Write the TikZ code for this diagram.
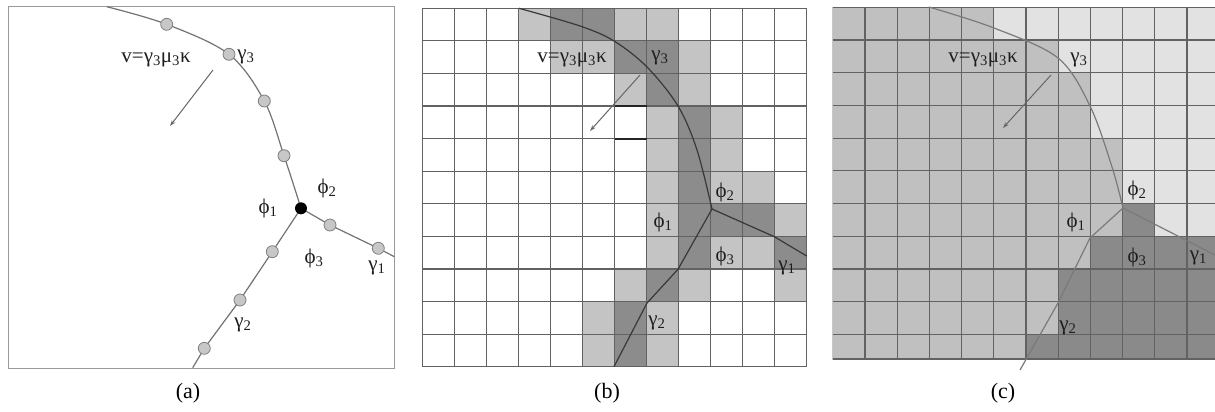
\documentclass[tikz,border=0pt]{standalone}
\usepackage{fontspec}
\setmainfont{Liberation Serif}
\usetikzlibrary{arrows.meta}
\definecolor{lgb}{HTML}{C4C4C4}
\definecolor{dgb}{HTML}{8C8C8C}
\definecolor{mgc}{HTML}{C0C0C0}
\definecolor{lgc}{HTML}{E2E2E2}
\definecolor{dgc}{HTML}{8A8A8A}
\definecolor{txt}{HTML}{1E1E1E}
\definecolor{gridc}{HTML}{626262}
\newcommand{\sub}[1]{\textsubscript{#1}}
\begin{document}
\begin{tikzpicture}[x=1pt,y=-1pt,
  lbl/.style={font=\fontsize{21}{24}\selectfont, text=txt, inner sep=0pt},
  captxt/.style={font=\fontsize{22}{24}\selectfont, text=black, inner sep=0pt},
  bead/.style={circle, draw=black!50, fill=black!22, line width=0.8pt, minimum size=12pt, inner sep=0pt},
  junc/.style={circle, fill=black, minimum size=12pt, inner sep=0pt},
  curveA/.style={draw=black!55, line width=1.2pt},
  curveB/.style={draw=black!78, line width=1.2pt},
  curveC/.style={draw=black!52, line width=1.2pt},
  vec/.style={draw=black!60, line width=1pt, -{Stealth[length=6pt,width=4pt]}},
  gridline/.style={draw=gridc, line width=1.2pt},
  heavy/.style={draw=black!85, line width=2pt},
  frameA/.style={draw=black!40, line width=1pt}
]
\useasboundingbox (0,0) rectangle (1215,412);
\fill[white] (0,0) rectangle (1215,412);

% ================= panel (a) =================
\draw[frameA] (8,7) rectangle (394,368);
\coordinate (aS) at (106.7,6.7);
\coordinate (ap1) at (166.7,24.3);
\coordinate (ap2) at (229,54.3);
\coordinate (ap3) at (264.3,101);
\coordinate (ap4) at (284,155.7);
\coordinate (aJ) at (301,208.3);
\coordinate (aq1) at (330,225);
\coordinate (aq2) at (378.3,248.3);
\coordinate (aE1) at (394.3,256.7);
\coordinate (ar1) at (272.3,251.7);
\coordinate (ar2) at (240,300);
\coordinate (ar3) at (204.3,348.3);
\coordinate (aE2) at (192.7,367.7);
\draw[curveA] plot[smooth, tension=0.55] coordinates {(aS) (ap1) (ap2) (ap3) (ap4) (aJ)};
\draw[curveA] (aJ) -- (aq1) -- (aq2) -- (aE1);
\draw[curveA] (aJ) -- (ar1) -- (ar2) -- (ar3) -- (aE2);
\foreach \p in {ap1,ap2,ap3,ap4,aq1,aq2,ar1,ar2,ar3} {\node[bead] (n\p) at (\p) {};}
\node[junc] (naJ) at (aJ) {};
\coordinate (aV1) at (213,70);
\coordinate (aV2) at (170,126);
\draw[vec] (aV1) -- (aV2);
\node[lbl] (aeq) at (156,60) {v=γ\sub{3}μ\sub{3}κ};
\node[lbl] (ag3) at (246,57) {γ\sub{3}};
\node[lbl] (af2) at (327,188) {ϕ\sub{2}};
\node[lbl] (af1) at (268,208) {ϕ\sub{1}};
\node[lbl] (af3) at (314,258) {ϕ\sub{3}};
\node[lbl] (ag1) at (377,268) {γ\sub{1}};
\node[lbl] (ag2) at (243,325) {γ\sub{2}};
\node[captxt] (capa) at (188,393) {(a)};

% ================= panel (b) =================
\begin{scope}[shift={(422.7,8.3)}]
  \foreach \c/\r in {3/0,6/0,7/0,4/1,5/1,8/1,6/2,8/2,7/3,9/3,7/4,9/4,7/5,9/5,10/5,7/6,11/6,7/7,9/7,10/7,6/8,8/8,11/8,5/9,7/9,5/10,7/10}
    \fill[lgb] ({32*\c},{32.58*\r}) rectangle ++(32,32.58);
  \foreach \c/\r in {4/0,5/0,6/1,7/1,7/2,8/3,8/4,8/5,8/6,9/6,10/6,8/7,11/7,7/8,6/9,6/10}
    \fill[dgb] ({32*\c},{32.58*\r}) rectangle ++(32,32.58);
  \foreach \i in {0,...,12} \draw[gridline] ({32*\i},0) -- ({32*\i},358.4);
  \foreach \j in {0,...,11} \draw[gridline] (0,{32.58*\j}) -- (384,{32.58*\j});
  \draw[heavy] (192,97.7) -- (224,97.7);
  \draw[heavy] (192,130.3) -- (224,130.3);
\end{scope}
\coordinate (bS) at (519,8.3);
\coordinate (bp1) at (580,26);
\coordinate (bp2) at (614,41);
\coordinate (bp3) at (647,67);
\coordinate (bp4) at (678,106);
\coordinate (bp5) at (697,150);
\coordinate (bJ) at (712,209);
\coordinate (bq1) at (774.3,236.7);
\coordinate (bE1) at (806.7,256);
\coordinate (br1) at (678,269.3);
\coordinate (br2) at (647,303);
\coordinate (bE2) at (614,366.7);
\draw[curveB] plot[smooth, tension=0.55] coordinates {(bS) (bp1) (bp2) (bp3) (bp4) (bp5) (bJ)};
\draw[curveB] (bJ) -- (bq1) -- (bE1);
\draw[curveB] (bJ) -- (br1) -- (br2) -- (bE2);
\coordinate (bV1) at (640,75);
\coordinate (bV2) at (590,131);
\draw[vec] (bV1) -- (bV2);
\node[lbl] (beq) at (572,60) {v=γ\sub{3}μ\sub{3}κ};
\node[lbl] (bg3) at (660,58) {γ\sub{3}};
\node[lbl] (bf2) at (725,192) {ϕ\sub{2}};
\node[lbl] (bf1) at (663,222) {ϕ\sub{1}};
\node[lbl] (bf3) at (725,256) {ϕ\sub{3}};
\node[lbl] (bg1) at (787,268) {γ\sub{1}};
\node[lbl] (bg2) at (657,323) {γ\sub{2}};
\node[captxt] (capb) at (607,393) {(b)};

% ================= panel (c) =================
\begin{scope}
  \clip (832.7,7.3) rectangle (1215,359);
  \begin{scope}[shift={(832.7,7.3)}]
    \fill[mgc] (0,0) rectangle (390,360);
    \foreach \r/\a in {0/5,1/7,2/8,3/8,4/9,5/9,6/10}
      \fill[lgc] ({32.2*\a},{32.7*\r}) rectangle ({32.2*12},{32.7*(\r+1)});
    \fill[dgc] ({32.2*9},{32.7*6}) rectangle ({32.2*10},{32.7*7});
    \foreach \r/\a in {7/8,8/7,9/7,10/6}
      \fill[dgc] ({32.2*\a},{32.7*\r}) rectangle ({32.2*12},{32.7*(\r+1)});
    \foreach \i in {0,...,12} \draw[gridline] ({32.2*\i},0) -- ({32.2*\i},360);
    \foreach \j in {0,...,11} \draw[gridline] (0,{32.7*\j}) -- (390,{32.7*\j});
  \end{scope}
\end{scope}
\draw[gridline] (832.7,359) -- (1215,359);
\coordinate (cS) at (929,7);
\coordinate (cp1) at (994,28);
\coordinate (cp2) at (1058,58);
\coordinate (cp3) at (1090,106);
\coordinate (cp4) at (1112,167);
\coordinate (cJ) at (1123,208);
\coordinate (cE1) at (1215,255);
\coordinate (cr1) at (1090,238);
\coordinate (cr2) at (1058,303);
\coordinate (cE2) at (1020,370);
\draw[curveC] plot[smooth, tension=0.55] coordinates {(cS) (cp1) (cp2) (cp3) (cp4) (cJ)};
\draw[curveC] (cJ) -- (cE1);
\draw[curveC] (cJ) -- (cr1) -- (cr2) -- (cE2);
\coordinate (cV1) at (1051,75);
\coordinate (cV2) at (1003,128);
\draw[vec] (cV1) -- (cV2);
\node[lbl] (ceq) at (983,60) {v=γ\sub{3}μ\sub{3}κ};
\node[lbl] (cg3) at (1079,60) {γ\sub{3}};
\node[lbl] (cf2) at (1137,190) {ϕ\sub{2}};
\node[lbl] (cf1) at (1076,222) {ϕ\sub{1}};
\node[lbl] (cf3) at (1137,257) {ϕ\sub{3}};
\node[lbl] (cg1) at (1198.5,258) {γ\sub{1}};
\node[lbl] (cg2) at (1068,328) {γ\sub{2}};
\node[captxt] (capc) at (1003,393) {(c)};
\end{tikzpicture}
\end{document}
